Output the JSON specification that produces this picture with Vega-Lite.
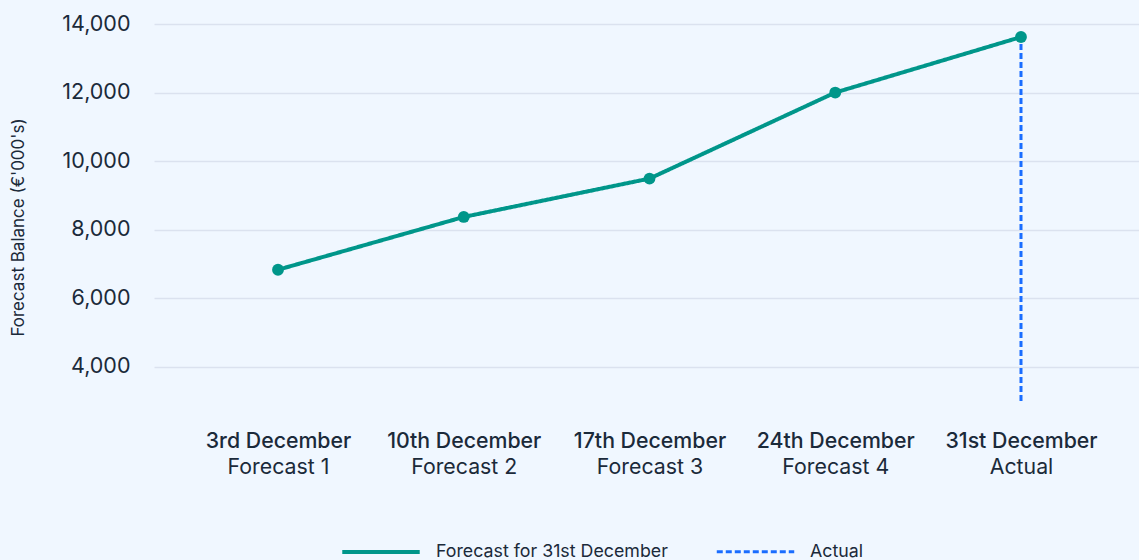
{
  "$schema": "https://vega.github.io/schema/vega-lite/v6.json",
  "autosize": {"type": "none"},
  "width": 991,
  "height": 377,
  "padding": {"left": 154, "top": 24, "right": -6, "bottom": 159},
  "background": "#f0f7ff",
  "config": {
    "view": {"stroke": null},
    "font": "Inter",
    "axis": {"labelFont": "Inter", "titleFont": "Inter"},
    "legend": {"labelFont": "Inter"}
  },
  "data": {
    "values": [
      {"label": "3rd December|Forecast 1", "value": 6830, "series": "Forecast for 31st December"},
      {"label": "10th December|Forecast 2", "value": 8370, "series": "Forecast for 31st December"},
      {"label": "17th December|Forecast 3", "value": 9490, "series": "Forecast for 31st December"},
      {"label": "24th December|Forecast 4", "value": 12000, "series": "Forecast for 31st December"},
      {"label": "31st December|Actual", "value": 13620, "series": "Forecast for 31st December"},
      {"label": "31st December|Actual", "value": 3000, "series": "Actual"},
      {"label": "31st December|Actual", "value": 13620, "series": "Actual"}
    ]
  },
  "resolve": {"axis": {"x": "independent"}},
  "layer": [
    {
      "transform": [{"filter": "datum.series != 'Actual'"}],
      "mark": {"type": "line"},
      "encoding": {
        "x": {
          "field": "label", "type": "ordinal",
          "sort": ["3rd December|Forecast 1", "10th December|Forecast 2", "17th December|Forecast 3", "24th December|Forecast 4", "31st December|Actual"],
          "scale": {"type": "point", "padding": 0.6676},
          "axis": {
            "orient": "bottom",
            "title": null, "labelAngle": 0, "domain": false, "ticks": false, "grid": false,
            "labelExpr": "split(datum.value, '|')[0]",
            "labelFontSize": 21.3, "labelFontWeight": 500, "labelColor": "#1b2a3a",
            "labelPadding": 29
          }
        },
        "y": {
          "field": "value", "type": "quantitative",
          "scale": {"domain": [3000, 14000], "nice": false, "zero": false},
          "axis": {
            "title": "Forecast Balance (€'000's)", "values": [4000, 6000, 8000, 10000, 12000, 14000],
            "domain": false, "ticks": false, "grid": true, "gridColor": "#dbe2ef", "gridWidth": 1.5,
            "labelFontSize": 21.5, "labelColor": "#1b2a3a", "labelPadding": 24,
            "titleFontSize": 17, "titleFontWeight": 400, "titleColor": "#1b2a3a", "titlePadding": 34,
            "titleY": 203
          }
        },
        "color": {
          "field": "series", "type": "nominal",
          "scale": {"domain": ["Forecast for 31st December", "Actual"], "range": ["#00968a", "#1a6dff"]},
          "legend": {
            "title": null, "orient": "none", "direction": "horizontal", "legendX": 186, "legendY": 487,
            "symbolType": "stroke", "symbolSize": 6000, "labelFontSize": 17.8, "labelColor": "#1b2a3a",
            "columnPadding": 42, "labelOffset": 14, "labelLimit": 500
          }
        },
        "strokeDash": {
          "field": "series", "type": "nominal",
          "scale": {"domain": ["Forecast for 31st December", "Actual"], "range": [[1, 0], [6, 3]]}
        },
        "strokeWidth": {
          "field": "series", "type": "nominal",
          "scale": {"domain": ["Forecast for 31st December", "Actual"], "range": [4, 3]}
        }
      }
    },
    {
      "transform": [{"filter": "datum.series == 'Actual'"}],
      "mark": {"type": "line"},
      "encoding": {
        "x": {
          "field": "label", "type": "ordinal",
          "sort": ["3rd December|Forecast 1", "10th December|Forecast 2", "17th December|Forecast 3", "24th December|Forecast 4", "31st December|Actual"],
          "axis": {
            "orient": "bottom",
            "title": null, "labelAngle": 0, "domain": false, "ticks": false, "grid": false,
            "labelExpr": "split(datum.value, '|')[1]",
            "labelFontSize": 21.3, "labelFontWeight": 400, "labelColor": "#1b2a3a",
            "labelPadding": 55
          }
        },
        "y": {"field": "value", "type": "quantitative"},
        "color": {"field": "series", "type": "nominal"},
        "strokeDash": {"field": "series", "type": "nominal"},
        "strokeWidth": {"field": "series", "type": "nominal"}
      }
    },
    {
      "transform": [{"filter": "datum.series != 'Actual'"}],
      "mark": {"type": "point", "filled": true, "opacity": 1, "size": 140, "color": "#00968a"},
      "encoding": {
        "x": {"field": "label", "type": "ordinal", "axis": null,
          "sort": ["3rd December|Forecast 1", "10th December|Forecast 2", "17th December|Forecast 3", "24th December|Forecast 4", "31st December|Actual"]},
        "y": {"field": "value", "type": "quantitative"}
      }
    }
  ]
}
